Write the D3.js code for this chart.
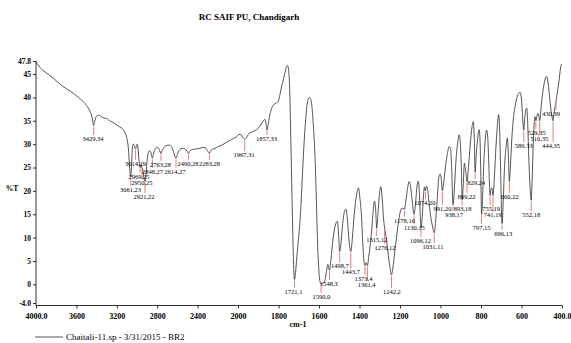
<!DOCTYPE html>
<html>
<head>
<meta charset="utf-8">
<script src="https://cdn.jsdelivr.net/npm/d3@7"></script>
<style>
  body { margin: 0; background: #fff; }
  svg { display: block; font-family: "Liberation Serif", "Times New Roman", serif; }
</style>
</head>
<body>
<svg id="chart" width="571" height="343"></svg>
<script>
// spectrum (wavenumber cm-1, %T)
const specWn = [4000, 3960, 3920, 3880, 3829, 3780, 3730, 3680, 3631, 3580, 3532, 3500, 3465, 3445, 3436, 3429, 3422, 3410, 3395, 3380,
  3360, 3330, 3300, 3284, 3260, 3240, 3218, 3180, 3136, 3110, 3096, 3085, 3075, 3066, 3061, 3055, 3048, 3038, 3027, 3020,
  3014, 3006, 2998, 2990, 2980, 2972, 2969, 2960, 2955, 2950, 2940, 2930, 2921, 2912, 2902, 2890, 2875, 2862, 2855, 2848,
  2840, 2828, 2812, 2795, 2780, 2770, 2763, 2755, 2742, 2725, 2705, 2680, 2660, 2645, 2630, 2614, 2600, 2585, 2565, 2540,
  2520, 2505, 2490, 2478, 2460, 2440, 2410, 2380, 2350, 2325, 2305, 2293, 2283, 2272, 2255, 2228, 2195, 2162, 2112, 2063,
  2030, 2013, 1995, 1985, 1975, 1967, 1958, 1945, 1930, 1916, 1900, 1885, 1875, 1867, 1862, 1857, 1852, 1845, 1835, 1825,
  1812, 1801, 1793, 1785, 1776, 1768, 1760, 1755, 1750, 1745, 1740, 1735, 1730, 1726, 1721, 1716, 1710, 1702, 1694, 1685,
  1677, 1668, 1661, 1654, 1648, 1642, 1636, 1628, 1620, 1613, 1608, 1602, 1598, 1590, 1580, 1571, 1563, 1556, 1552, 1548,
  1543, 1535, 1525, 1515, 1509, 1503, 1498, 1492, 1484, 1475, 1467, 1460, 1452, 1443, 1436, 1426, 1415, 1405, 1398, 1390,
  1384, 1378, 1373, 1367, 1361, 1354, 1346, 1339, 1332, 1326, 1321, 1315, 1309, 1302, 1295, 1288, 1282, 1276, 1268, 1260,
  1250, 1242, 1235, 1227, 1220, 1210, 1200, 1190, 1182, 1178, 1172, 1163, 1155, 1148, 1140, 1131, 1124, 1116, 1110, 1104,
  1100, 1096, 1090, 1084, 1079, 1074, 1070, 1064, 1058, 1050, 1040, 1031, 1024, 1015, 1008, 1002, 996, 991, 985, 976,
  966, 957, 950, 945, 938, 932, 925, 916, 908, 902, 897, 893, 888, 882, 876, 869, 862, 853, 845, 838,
  833, 829, 824, 817, 810, 806, 802, 797, 792, 785, 778, 772, 766, 761, 755, 750, 746, 741, 735, 728,
  720, 713, 708, 703, 696, 690, 684, 676, 670, 665, 660, 655, 648, 640, 630, 620, 607, 600, 594, 589,
  584, 578, 574, 569, 564, 558, 552, 547, 542, 537, 533, 529, 524, 519, 514, 510, 505, 498, 490, 483,
  476, 470, 462, 455, 449, 444, 440, 436, 430, 425, 418, 411, 405, 400];
const specT = [47.6, 46.4, 45.6, 45.0, 44.1, 43.2, 42.3, 41.6, 40.9, 40.0, 39.1, 38.3, 37.0, 35.8, 34.6, 34.0, 34.6, 35.6, 36.1, 36.2,
  36.0, 35.6, 35.5, 35.2, 34.9, 34.7, 34.4, 33.8, 33.1, 32.0, 30.8, 29.0, 25.5, 23.4, 23.0, 25.0, 28.5, 30.0, 29.8, 29.2,
  29.0, 29.6, 30.0, 29.2, 26.5, 25.3, 25.0, 25.6, 25.3, 25.0, 24.0, 22.6, 22.0, 23.0, 26.0, 28.0, 28.6, 28.2, 27.5, 27.0,
  27.6, 28.6, 29.2, 29.3, 28.9, 28.3, 28.0, 28.4, 29.0, 29.5, 29.7, 29.8, 29.5, 28.8, 27.7, 27.0, 27.8, 28.6, 29.0, 29.1,
  28.9, 28.5, 28.0, 28.5, 28.8, 28.9, 29.0, 29.1, 29.3, 29.2, 28.7, 28.3, 28.0, 28.4, 28.9, 29.1, 29.5, 29.8, 30.4, 31.0,
  31.4, 31.6, 32.1, 32.0, 31.4, 31.0, 31.4, 32.3, 32.6, 32.9, 33.4, 34.3, 35.0, 35.3, 34.4, 33.0, 34.0, 35.8, 37.5, 38.4,
  38.8, 39.2, 40.6, 42.3, 43.8, 45.3, 46.6, 46.8, 45.8, 42.0, 33.0, 22.0, 12.0, 5.0, 1.0, 2.5, 5.5, 9.5, 13.4, 20.5,
  27.7, 34.0, 37.7, 39.5, 40.0, 39.8, 38.5, 34.0, 27.7, 18.0, 10.0, 4.0, 1.5, 0.0, 0.2, 0.8, 2.8, 4.3, 3.6, 3.0,
  4.5, 8.0, 11.5, 13.2, 13.5, 10.5, 7.0, 8.5, 12.5, 15.5, 16.1, 14.0, 9.5, 7.0, 9.5, 15.0, 19.0, 20.6, 18.5, 14.5,
  9.0, 5.0, 4.0, 4.6, 4.0, 6.0, 9.0, 12.0, 16.0, 17.8, 16.5, 12.0, 15.0, 19.0, 20.9, 18.5, 14.5, 12.0, 10.0, 7.0,
  3.8, 2.0, 3.5, 6.5, 9.1, 12.5, 15.3, 16.3, 16.2, 16.0, 17.5, 20.5, 22.0, 21.0, 18.0, 15.0, 17.0, 21.0, 22.1, 19.5,
  15.0, 12.0, 14.5, 19.0, 20.8, 20.0, 21.0, 20.5, 18.0, 15.0, 12.5, 11.0, 13.5, 19.0, 23.0, 23.6, 22.5, 20.0, 21.5, 25.0,
  28.0, 29.5, 29.0, 25.0, 17.0, 20.0, 25.5, 30.0, 32.0, 30.0, 25.0, 18.0, 21.0, 25.9, 24.5, 22.0, 25.0, 30.0, 33.5, 34.8,
  31.0, 24.0, 27.5, 31.0, 33.1, 32.0, 26.0, 15.0, 19.0, 27.0, 31.5, 33.0, 31.0, 25.0, 19.0, 20.5, 20.6, 19.0, 22.0, 28.0,
  33.5, 36.3, 33.0, 24.0, 13.0, 18.0, 25.0, 29.5, 31.3, 28.0, 22.0, 25.0, 31.0, 35.5, 38.5, 40.3, 41.1, 39.5, 35.5, 33.0,
  35.5, 37.5, 37.7, 34.0, 27.0, 21.0, 18.0, 23.0, 30.0, 34.5, 35.9, 35.0, 36.0, 36.6, 36.0, 35.0, 37.0, 40.0, 42.5, 44.0,
  44.5, 43.5, 40.5, 37.5, 35.8, 35.0, 36.5, 37.5, 39.0, 40.5, 42.5, 45.0, 46.8, 47.2];

// labelled peaks: wavenumber, %T, and where each label sits (cm-1, %T)
const peakWn = [3429, 3061, 3014, 2969, 2950, 2921, 2848, 2763, 2614, 2490, 2283, 1967, 1857, 1721, 1590, 1548, 1498, 1443, 1373, 1361,
  1315, 1276, 1242, 1178, 1130, 1096, 1074, 1031, 991, 938, 893, 869, 829, 797, 755, 741, 696, 660, 552, 589,
  529, 510, 444, 430];
const peakT = [34, 23, 29, 25, 25, 22, 27, 28, 27, 28, 28, 31, 33, 1, 0, 3, 7, 7, 4, 4,
  12, 12, 2, 16, 15, 12, 20, 11, 20, 17, 18, 22, 24, 15, 19, 19, 13, 22, 18, 33,
  35, 35, 35, 39];
const labelWn = [3436, 3064, 3015, 2980, 2950, 2931, 2847, 2767, 2624, 2495, 2282, 1970, 1859, 1726, 1588, 1551, 1496, 1442, 1380, 1365,
  1314, 1274, 1240, 1178, 1129, 1099, 1077, 1037, 990, 933, 891, 871, 824, 797, 750, 742, 690, 658, 552, 589,
  525, 511, 454, 454];
const labelT = [31.1, 20.2, 25.8, 23.0, 21.7, 18.7, 24.1, 25.6, 24.1, 25.8, 25.8, 27.7, 31.1, -1.6, -2.7, 0.1, 3.9, 2.6, 1.1, -0.1,
  9.5, 7.8, -1.6, 13.6, 12.1, 9.3, 17.4, 8.0, 16.1, 14.8, 16.1, 18.7, 21.7, 12.1, 16.1, 14.8, 10.8, 18.7, 14.8, 29.6,
  32.4, 31.1, 29.6, 36.5];

const xTicks = [4000, 3600, 3200, 2800, 2400, 2000, 1800, 1600, 1400, 1200, 1000, 800, 600, 400];
const xTickLabels = ['4000.0', '3600', '3200', '2800', '2400', '2000', '1800', '1600', '1400', '1200', '1000', '800', '600', '400.0'];
const yTicks = [47.8, 45, 40, 35, 30, 25, 20, 15, 10, 5, 0, -4];
const yTickLabels = ['47.8', '45', '40', '35', '30', '25', '20', '15', '10', '5', '0', '-4.0'];

const svg = d3.select('#chart');

// the x axis is expanded 2x below 2000 cm-1
const x = d3.scaleLinear().domain([4000, 2000, 400]).range([36, 238, 562]);
const y = d3.scaleLinear().domain([-4, 47.8]).range([303, 61]);
const axisY = 305.5;

svg.append('text')
  .attr('x', 249).attr('y', 20)
  .attr('text-anchor', 'middle')
  .attr('font-size', 9).attr('font-weight', 'bold')
  .text('RC SAIF PU, Chandigarh');

// axes
const xAxis = svg.append('g')
  .attr('transform', `translate(0,${axisY})`)
  .call(d3.axisBottom(x).tickValues(xTicks).tickSize(3).tickPadding(5)
    .tickFormat((d, i) => xTickLabels[i]));
const yAxis = svg.append('g')
  .attr('transform', 'translate(36,0)')
  .call(d3.axisLeft(y).tickValues(yTicks).tickSize(3).tickPadding(2)
    .tickFormat((d, i) => yTickLabels[i]));

[xAxis, yAxis].forEach(g => {
  g.select('.domain').remove();
  g.selectAll('text').attr('font-family', '"Liberation Serif", serif')
    .attr('font-weight', 'bold').attr('fill', '#000');
  g.selectAll('line').attr('stroke', '#000').attr('stroke-width', 0.8);
});
xAxis.selectAll('text').attr('font-size', 8);
yAxis.selectAll('text').attr('font-size', 7.5);

svg.append('path')
  .attr('fill', 'none').attr('stroke', '#000').attr('stroke-width', 0.8)
  .attr('d', `M36,${y(47.8)}V${axisY}H562`);

svg.append('text')
  .attr('x', 12).attr('y', 191)
  .attr('text-anchor', 'middle')
  .attr('font-size', 7.5).attr('font-weight', 'bold')
  .text('%T');

svg.append('text')
  .attr('x', 298).attr('y', 327)
  .attr('text-anchor', 'middle')
  .attr('font-size', 8).attr('font-weight', 'bold')
  .text('cm-1');

// spectrum line
const points = specWn.map((w, i) => [w, specT[i]]);
const line = d3.line()
  .x(d => x(d[0]))
  .y(d => y(d[1]))
  .curve(d3.curveMonotoneX);

svg.append('path')
  .datum(points)
  .attr('fill', 'none')
  .attr('stroke', '#2a2a2a')
  .attr('stroke-width', 0.8)
  .attr('d', line);

// peak markers and labels
const peaks = peakWn.map((w, i) => ({ w, t: peakT[i], lw: labelWn[i], lt: labelT[i] }));

svg.append('g').selectAll('line')
  .data(peaks)
  .enter()
  .append('line')
  .attr('x1', d => x(d.w))
  .attr('x2', d => x(d.w))
  .attr('y1', d => y(d.t) + 1)
  .attr('y2', d => y(d.lt) - 4)
  .attr('stroke', '#f07878')
  .attr('stroke-width', 1);

svg.append('g').selectAll('text')
  .data(peaks)
  .enter()
  .append('text')
  .attr('x', d => x(d.lw))
  .attr('y', d => y(d.lt))
  .attr('dy', '0.35em')
  .attr('text-anchor', 'middle')
  .attr('font-size', 6.5)
  .attr('fill', '#000')
  .text(d => `${d.w},${d.t}`);

// legend
svg.append('line')
  .attr('x1', 35).attr('x2', 63)
  .attr('y1', 337).attr('y2', 337)
  .attr('stroke', '#2a2a2a').attr('stroke-width', 0.8);
svg.append('text')
  .attr('x', 66).attr('y', 340)
  .attr('font-size', 9)
  .text('Chaitali-11.sp - 3/31/2015 - BR2');
</script>
</body>
</html>
